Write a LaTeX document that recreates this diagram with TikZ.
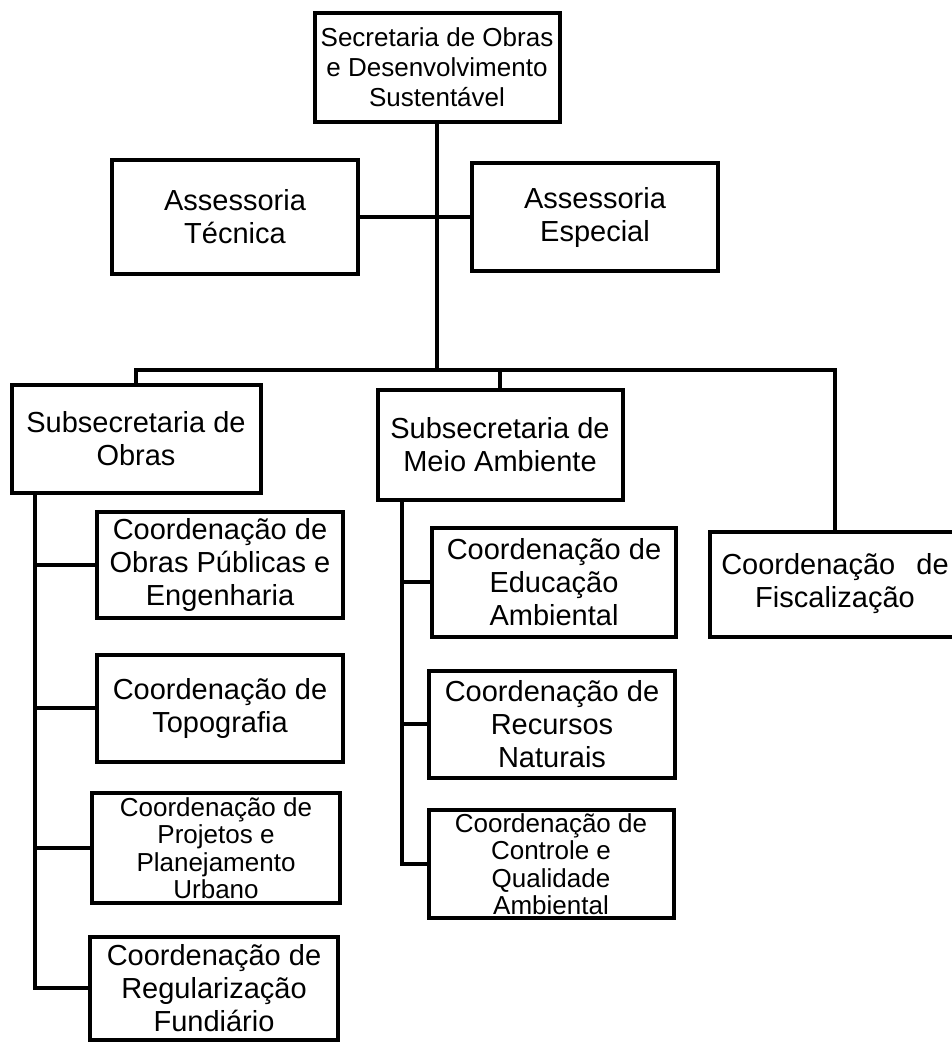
\documentclass[tikz,border=0pt]{standalone}
\usepackage{fontspec}
\setmainfont{Liberation Sans}
\usetikzlibrary{positioning}
\tikzset{
    unit/.style={rectangle, draw=black, line width=4pt, fill=white,
        align=center, inner sep=2pt, font=\fontsize{29}{33}\selectfont},
    smallunit/.style={unit, font=\fontsize{26}{27.5}\selectfont},
    link/.style={line width=4pt, line cap=rect}
}
\begin{document}
\begin{tikzpicture}[x=1pt,y=-1pt]
    \useasboundingbox (0,0) rectangle (951,1044);
    % top level
    \node[unit, minimum width=245pt, minimum height=109pt,
        font=\fontsize{26}{30}\selectfont] (sec) at (437,67)
        {Secretaria de Obras\\e Desenvolvimento\\Sustentável};
    \node[unit, minimum width=246pt, minimum height=114pt] (at) at (235,217)
        {Assessoria\\Técnica};
    \node[unit, minimum width=246pt, minimum height=108pt] (ae) at (595,217)
        {Assessoria\\Especial};
    % second level
    \node[unit, minimum width=249pt, minimum height=108pt] (so) at (136,439)
        {Subsecretaria de\\Obras};
    \node[unit, minimum width=245pt, minimum height=110pt] (sma) at (500,445)
        {Subsecretaria de\\Meio Ambiente};
    \node[unit, minimum width=250pt, minimum height=105pt] (cf) at (835,584)
        {Coordenação\hspace{0.45em} de\\Fiscalização};
    % obras
    \node[unit, minimum width=246pt, minimum height=106pt] (c1) at (220,565)
        {Coordenação de\\Obras Públicas e\\Engenharia};
    \node[unit, minimum width=246pt, minimum height=107pt] (c2) at (220,708)
        {Coordenação de\\Topografia};
    \node[smallunit, minimum width=248pt, minimum height=110pt] (c3) at (216,848)
        {Coordenação de\\Projetos e\\Planejamento\\Urbano};
    \node[unit, minimum width=248pt, minimum height=103pt] (c4) at (214,988)
        {Coordenação de\\Regularização\\Fundiário};
    % meio ambiente
    \node[unit, minimum width=244pt, minimum height=109pt] (d1) at (554,582)
        {Coordenação de\\Educação\\Ambiental};
    \node[unit, minimum width=246pt, minimum height=107pt] (d2) at (552,724)
        {Coordenação de\\Recursos\\Naturais};
    \node[smallunit, minimum width=245pt, minimum height=108pt] (d3) at (551,864)
        {Coordenação de\\Controle e\\Qualidade\\Ambiental};
    % connectors
    \coordinate (bus) at (437,370);
    \coordinate (ospine) at (35,0);
    \coordinate (mspine) at (402,0);
    \draw[link] (sec.south) -- (bus);
    \draw[link] (at.east) -- (ae.west);
    \draw[link] (so.north) |- (cf.north |- bus) -- (cf.north);
    \draw[link] (sma.north) -- (sma.north |- bus);
    \draw[link] (ospine |- so.south) |- (c4.west);
    \foreach \n in {c1,c2,c3}
        \draw[link] (\n.west) -- (\n.west -| ospine);
    \draw[link] (mspine |- sma.south) |- (d3.west);
    \foreach \n in {d1,d2}
        \draw[link] (\n.west) -- (\n.west -| mspine);
\end{tikzpicture}
\end{document}
